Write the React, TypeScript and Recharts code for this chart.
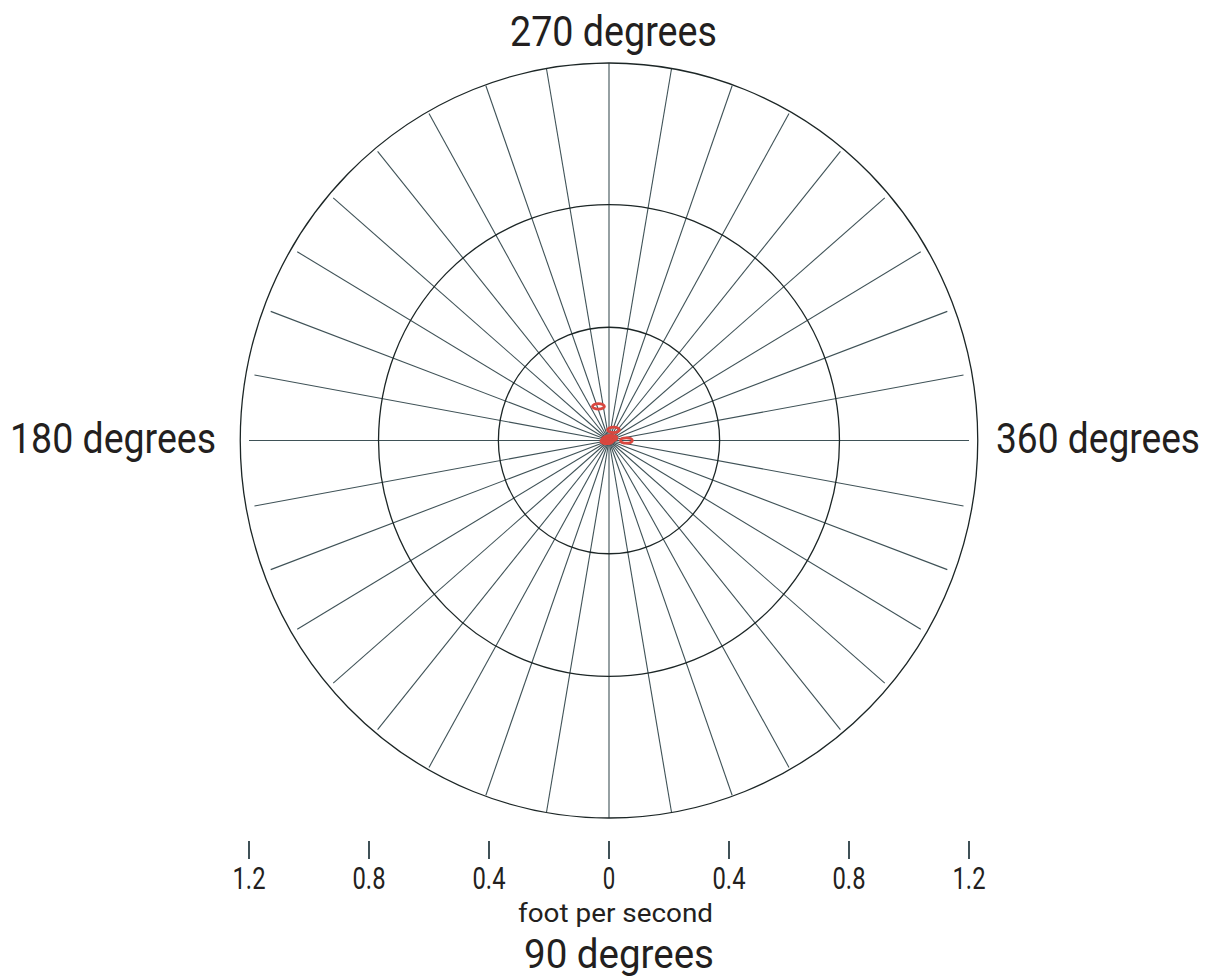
import { ScatterChart, Scatter, XAxis, YAxis, ReferenceLine } from "recharts";

// observations: speed in foot per second, direction in degrees (0 = right, 90 = down)
const speeds = [0.114, 0.037, 0.005, 0.0104, 0.007, 0.058];
const directions = [252, 294, 250, 310, 167, 0];

const rings = [0.36, 0.75, 1.2];
const spokeAngles = Array.from({ length: 36 }, (_, i) => i * 10);
const axisTicks = [-1.2, -0.8, -0.4, 0, 0.4, 0.8, 1.2];
const RMAX = 1.2;

const W = 1206;
const H = 979;
const margin = { top: 63, right: 237, left: 249, bottom: 0 };
const X_AXIS_H = 161;
const PLOT_W = W - margin.left - margin.right;
const PLOT_H = H - margin.top - margin.bottom - X_AXIS_H;
const PX_X = PLOT_W / (2 * RMAX);
const PX_Y = PLOT_H / (2 * RMAX);

const FONT = "Roboto, sans-serif";
const INK = "#231f20";
const SPOKE = "#3f5257";
const RED = "#d9473f";

const points = speeds.map((s, i) => {
  const t = (directions[i] * Math.PI) / 180;
  return { x: s * Math.cos(t), y: -s * Math.sin(t) };
});

const ringData = rings.map((r) => ({ x: 0, y: 0, r }));

const RingShape = (props: any) => {
  const r = props.payload?.r ?? 0;
  return (
    <ellipse
      cx={props.cx}
      cy={props.cy}
      rx={r * (PX_X + PX_Y) / 2}
      ry={r * PX_Y}
      fill="none"
      stroke="#1c2626"
      strokeWidth={1.3}
    />
  );
};

const PointShape = (props: any) => (
  <ellipse cx={props.cx} cy={props.cy} rx={6} ry={2.7} fill="none" stroke={RED} strokeWidth={2.8} />
);

const Tick = ({ x, y, payload }: any) => {
  const label = String(Math.abs(payload.value));
  const digits = label.replace(".", "").length;
  const dots = label.length - digits;
  return (
    <g>
      <line x1={x} x2={x} y1={y + 23} y2={y + 41} stroke={SPOKE} strokeWidth={2} />
      <text
        x={x}
        y={y + 71}
        textAnchor="middle"
        fontSize={31}
        fontFamily={FONT}
        fill={INK}
        textLength={digits * 12.5 + dots * 8}
        lengthAdjust="spacingAndGlyphs"
      >
        {label}
      </text>
    </g>
  );
};

export default function App() {
  return (
    <div style={{ position: "absolute", left: 0, top: 0, width: W, height: H, background: "#fff" }}>
      <ScatterChart width={W} height={H} margin={margin}>
        <XAxis
          type="number"
          dataKey="x"
          domain={[-RMAX, RMAX]}
          ticks={axisTicks}
          interval={0}
          axisLine={false}
          tickLine={false}
          tickSize={0}
          tickMargin={0}
          height={X_AXIS_H}
          tick={<Tick />}
        />
        <YAxis
          type="number"
          dataKey="y"
          domain={[-RMAX, RMAX]}
          ticks={[-RMAX]}
          width={0}
          axisLine={false}
          tickSize={5}
          tickLine={{ stroke: "#999" }}
          tickFormatter={() => ""}
        />
        {spokeAngles.map((a) => {
          const t = (a * Math.PI) / 180;
          return (
            <ReferenceLine
              key={a}
              segment={[
                { x: 0, y: 0 },
                { x: RMAX * Math.cos(t), y: -RMAX * Math.sin(t) },
              ]}
              stroke={SPOKE}
              strokeWidth={1.1}
              ifOverflow="visible"
            />
          );
        })}
        <Scatter data={ringData} shape={<RingShape />} isAnimationActive={false} />
        <Scatter data={points} shape={<PointShape />} isAnimationActive={false} />
      </ScatterChart>
      <svg
        width={W}
        height={H}
        style={{ position: "absolute", left: 0, top: 0, pointerEvents: "none" }}
        fontFamily={FONT}
        fill={INK}
      >
        <text x={510} y={46} fontSize={42} textLength={207} lengthAdjust="spacingAndGlyphs">270 degrees</text>
        <text x={10} y={453} fontSize={42} textLength={206} lengthAdjust="spacingAndGlyphs">180 degrees</text>
        <text x={1200} y={453} textAnchor="end" fontSize={42} textLength={204} lengthAdjust="spacingAndGlyphs">360 degrees</text>
        <text x={524} y={968} fontSize={41} textLength={190} lengthAdjust="spacingAndGlyphs">90 degrees</text>
        <text x={518} y={922} fontSize={26} textLength={195} lengthAdjust="spacingAndGlyphs">foot per second</text>
      </svg>
    </div>
  );
}
